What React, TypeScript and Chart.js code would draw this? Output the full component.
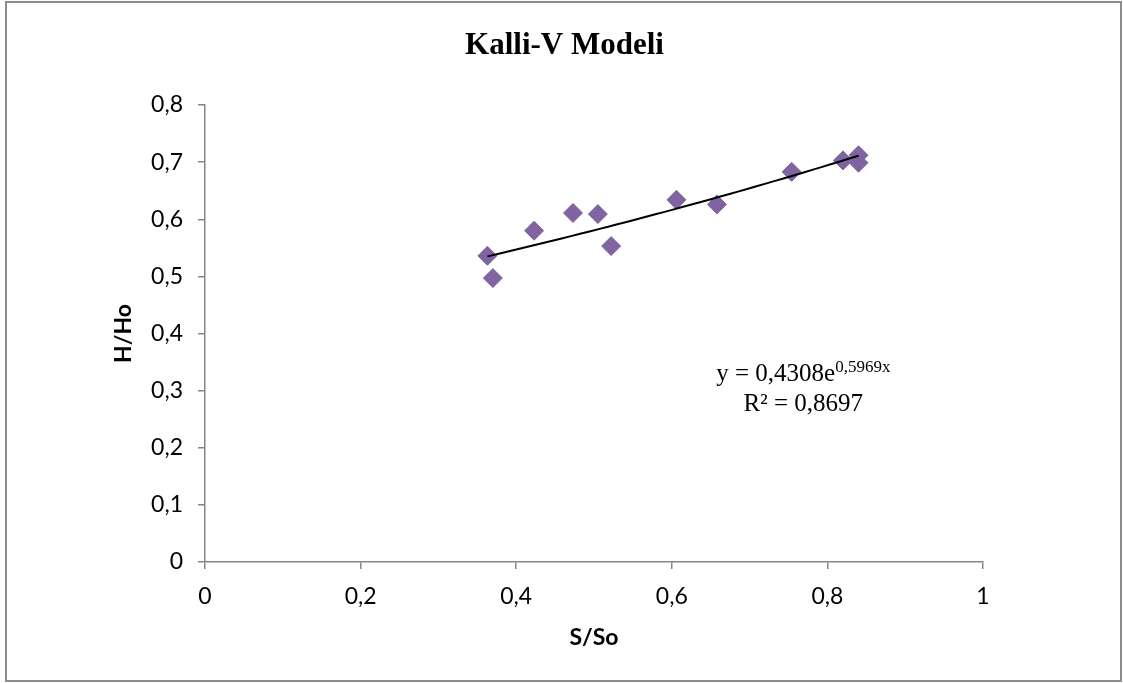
import { useEffect, useRef } from "react";
import { Chart, registerables } from "chart.js";

Chart.register(...registerables);

const TITLE = "Kalli-V Modeli";
const X_TITLE = "S/So";
const Y_TITLE = "H/Ho";

const xValues = [0.363, 0.37, 0.423, 0.473, 0.505, 0.522, 0.606, 0.658, 0.754, 0.82, 0.84, 0.84];
const yValues = [0.536, 0.497, 0.58, 0.611, 0.609, 0.553, 0.634, 0.626, 0.683, 0.703, 0.712, 0.699];

const xTicks = [0, 0.2, 0.4, 0.6, 0.8, 1];
const yTicks = [0, 0.1, 0.2, 0.3, 0.4, 0.5, 0.6, 0.7, 0.8];

// Exponential trendline as printed on the chart
const TREND_A = 0.4308;
const TREND_B = 0.5969;
const EQ_BASE = "y = 0,4308e";
const EQ_SUP = "0,5969x";
const EQ_R2 = "R² = 0,8697";
// annotation anchor (data units)
const EQ_X = 0.769;
const EQ_Y1 = 0.316;
const EQ_Y2 = 0.265;

const fmt = (v: number) => String(Number(v.toFixed(1))).replace(".", ",");

export default function App() {
  const ref = useRef<HTMLCanvasElement | null>(null);

  useEffect(() => {
    const canvas = ref.current;
    if (!canvas) return;

    const xmin = Math.min(...xValues);
    const xmax = Math.max(...xValues);
    const trend: { x: number; y: number }[] = [];
    const N = 40;
    for (let i = 0; i <= N; i++) {
      const x = xmin + ((xmax - xmin) * i) / N;
      trend.push({ x, y: TREND_A * Math.exp(TREND_B * x) });
    }

    const decor = {
      id: "decor",
      beforeDraw(chart: any) {
        const ctx = chart.ctx;
        ctx.save();
        ctx.fillStyle = "#ffffff";
        ctx.fillRect(0, 0, chart.width, chart.height);
        ctx.restore();
      },
      afterDraw(chart: any) {
        const ctx = chart.ctx;
        ctx.save();
        // outer frame
        ctx.strokeStyle = "#8c8c8c";
        ctx.lineWidth = 2;
        ctx.strokeRect(6, 2, 1115, 679);
        // title
        ctx.fillStyle = "#000";
        ctx.font = "bold 31px 'Liberation Serif'";
        ctx.textAlign = "center";
        ctx.textBaseline = "alphabetic";
        ctx.fillText(TITLE, chart.width / 2 + 3, 54);
        // equation
        const xs = chart.scales.x;
        const ys = chart.scales.y;
        const cx = xs.getPixelForValue(EQ_X);
        const y1 = ys.getPixelForValue(EQ_Y1);
        const y2 = ys.getPixelForValue(EQ_Y2);
        const baseFont = "25px 'Liberation Serif'";
        const supFont = "17px 'Liberation Serif'";
        ctx.font = baseFont;
        const wb = ctx.measureText(EQ_BASE).width;
        ctx.font = supFont;
        const ws = ctx.measureText(EQ_SUP).width;
        const start = cx - (wb + ws) / 2;
        ctx.textAlign = "left";
        ctx.font = baseFont;
        ctx.fillText(EQ_BASE, start, y1);
        ctx.font = supFont;
        ctx.fillText(EQ_SUP, start + wb, y1 - 9);
        ctx.font = baseFont;
        ctx.textAlign = "center";
        ctx.fillText(EQ_R2, cx, y2);
        ctx.restore();
      },
    };

    const axisColor = "#868686";
    const tickFont = { family: "Lato", size: 23 };
    const titleFont = { family: "Lato", size: 23, weight: "bold" as const };

    const chart = new Chart(canvas, {
      type: "scatter",
      data: {
        datasets: [
          {
            label: "trend",
            data: trend,
            showLine: true,
            borderColor: "#000000",
            borderWidth: 2,
            pointRadius: 0,
            fill: false,
            tension: 0,
            order: 0,
          } as any,
          {
            label: "H/Ho",
            data: xValues.map((x, i) => ({ x, y: yValues[i] })),
            pointStyle: "rectRot",
            pointRadius: 9.5,
            backgroundColor: "#8064A2",
            borderColor: "#8064A2",
            borderWidth: 1,
            order: 1,
          } as any,
        ],
      },
      options: {
        responsive: false,
        animation: false,
        devicePixelRatio: 1,
        layout: { padding: { left: 110, top: 105, right: 140, bottom: 30 } },
        plugins: {
          legend: { display: false },
          tooltip: { enabled: false },
          title: { display: false },
        },
        scales: {
          x: {
            type: "linear",
            min: 0,
            max: 1,
            afterBuildTicks: (s: any) => {
              s.ticks = xTicks.map((v) => ({ value: v }));
            },
            afterFit: (s: any) => {
              s.height = 91;
            },
            ticks: {
              callback: (v: any) => fmt(Number(v)),
              font: tickFont,
              color: "#000",
              padding: 14,
              maxRotation: 0,
              autoSkip: false,
            },
            grid: {
              drawOnChartArea: false,
              drawTicks: true,
              tickLength: 7,
              color: axisColor,
              lineWidth: 1.5,
            },
            border: { color: axisColor, width: 1.5 },
            title: {
              display: true,
              text: X_TITLE,
              font: titleFont,
              color: "#000",
              padding: { top: 0, bottom: 2 },
            },
          },
          y: {
            type: "linear",
            min: 0,
            max: 0.8,
            afterBuildTicks: (s: any) => {
              s.ticks = yTicks.map((v) => ({ value: v }));
            },
            afterFit: (s: any) => {
              s.width = 95;
            },
            ticks: {
              callback: (v: any) => fmt(Number(v)),
              font: tickFont,
              color: "#000",
              padding: 15,
              autoSkip: false,
            },
            grid: {
              drawOnChartArea: false,
              drawTicks: true,
              tickLength: 7,
              color: axisColor,
              lineWidth: 1.5,
            },
            border: { color: axisColor, width: 1.5 },
            title: {
              display: true,
              text: Y_TITLE,
              font: titleFont,
              color: "#000",
              padding: { top: 0, bottom: 0 },
            },
          },
        },
      },
      plugins: [decor],
    });

    return () => chart.destroy();
  }, []);

  return (
    <div style={{ position: "fixed", left: 0, top: 0, width: 1123, height: 683, background: "#fff" }}>
      <canvas ref={ref} width={1123} height={683} style={{ display: "block" }} />
    </div>
  );
}
